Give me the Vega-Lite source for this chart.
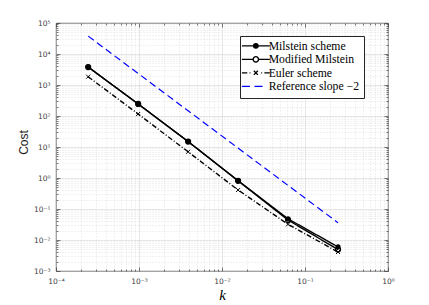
{
  "$schema": "https://vega.github.io/schema/vega-lite/v6.json",
  "width": 332,
  "height": 248,
  "autosize": {"type": "none"},
  "padding": {"left": 56, "top": 23, "right": 41, "bottom": 34},
  "background": "white",
  "datasets": {
    "pts": [
      {"series": "Milstein scheme", "k": 0.000244140625, "cost": 3800},
      {"series": "Milstein scheme", "k": 0.0009765625, "cost": 245},
      {"series": "Milstein scheme", "k": 0.00390625, "cost": 15},
      {"series": "Milstein scheme", "k": 0.015625, "cost": 0.82},
      {"series": "Milstein scheme", "k": 0.0625, "cost": 0.048},
      {"series": "Milstein scheme", "k": 0.25, "cost": 0.006},
      {"series": "Modified Milstein", "k": 0.000244140625, "cost": 3800},
      {"series": "Modified Milstein", "k": 0.0009765625, "cost": 245},
      {"series": "Modified Milstein", "k": 0.00390625, "cost": 15},
      {"series": "Modified Milstein", "k": 0.015625, "cost": 0.81},
      {"series": "Modified Milstein", "k": 0.0625, "cost": 0.044},
      {"series": "Modified Milstein", "k": 0.25, "cost": 0.0049},
      {"series": "Euler scheme", "k": 0.000244140625, "cost": 1850},
      {"series": "Euler scheme", "k": 0.0009765625, "cost": 116},
      {"series": "Euler scheme", "k": 0.00390625, "cost": 7.0},
      {"series": "Euler scheme", "k": 0.015625, "cost": 0.41},
      {"series": "Euler scheme", "k": 0.0625, "cost": 0.032},
      {"series": "Euler scheme", "k": 0.25, "cost": 0.0041},
      {"series": "Reference slope −2", "k": 0.000244140625, "cost": 37700},
      {"series": "Reference slope −2", "k": 0.25, "cost": 0.036}
    ]
  },
  "data": {"name": "pts"},
  "config": {
    "view": {"stroke": "#262626", "strokeWidth": 0.8},
    "legend": {
      "orient": "none",
      "legendX": 184,
      "legendY": 13,
      "padding": 4,
      "rowPadding": 0.5,
      "strokeColor": "#262626",
      "fillColor": "white",
      "labelFont": "Liberation Serif",
      "labelFontSize": 11.7,
      "labelColor": "#000000",
      "symbolSize": 81,
      "symbolStrokeWidth": 1.4,
      "symbolOffset": 6,
      "labelOffset": 7,
      "labelLimit": 200
    }
  },
  "layer": [
    {
      "transform": [{"filter": "datum.series === 'Reference slope −2'"}],
      "mark": {"type": "line", "color": "#0000ff", "strokeDash": [7, 4], "strokeWidth": 1.2},
      "encoding": {
        "x": {
          "field": "k", "type": "quantitative",
          "scale": {"type": "log", "domain": [0.0001, 1], "nice": false},
          "axis": {
            "orient": "top", "title": null, "labels": false, "grid": false, "domain": false,
            "values": [0.0001,0.0002,0.0003,0.0004,0.0005,0.0006,0.0007,0.0008,0.0009,0.001,0.002,0.003,0.004,0.005,0.006,0.007,0.008,0.009,0.01,0.02,0.03,0.04,0.05,0.06,0.07,0.08,0.09,0.1,0.2,0.3,0.4,0.5,0.6,0.7,0.8,0.9,1],
            "tickColor": "#262626", "tickWidth": 0.6,
            "tickSize": {"condition": {"test": "abs(log(datum.value)/LN10 - round(log(datum.value)/LN10)) < 0.001", "value": -4}, "value": -2}
          }
        },
        "y": {
          "field": "cost", "type": "quantitative",
          "scale": {"type": "log", "domain": [0.001, 100000], "nice": false},
          "axis": {
            "orient": "right", "title": null, "labels": false, "grid": false, "domain": false,
            "values": [0.001,0.002,0.003,0.004,0.005,0.006,0.007,0.008,0.009,0.01,0.02,0.03,0.04,0.05,0.06,0.07,0.08,0.09,0.1,0.2,0.3,0.4,0.5,0.6,0.7,0.8,0.9,1,2,3,4,5,6,7,8,9,10,20,30,40,50,60,70,80,90,100,200,300,400,500,600,700,800,900,1000,2000,3000,4000,5000,6000,7000,8000,9000,10000,20000,30000,40000,50000,60000,70000,80000,90000,100000],
            "tickColor": "#262626", "tickWidth": 0.6,
            "tickSize": {"condition": {"test": "abs(log(datum.value)/LN10 - round(log(datum.value)/LN10)) < 0.001", "value": -4}, "value": -2}
          }
        }
      }
    },
    {
      "transform": [{"filter": "datum.series !== 'Reference slope −2'"}],
      "mark": {"type": "line", "color": "black", "strokeWidth": 1.4},
      "encoding": {
        "x": {
          "field": "k", "type": "quantitative",
          "scale": {"type": "log", "domain": [0.0001, 1], "nice": false},
          "axis": {
            "orient": "bottom",
            "values": [0.0001,0.0002,0.0003,0.0004,0.0005,0.0006,0.0007,0.0008,0.0009,0.001,0.002,0.003,0.004,0.005,0.006,0.007,0.008,0.009,0.01,0.02,0.03,0.04,0.05,0.06,0.07,0.08,0.09,0.1,0.2,0.3,0.4,0.5,0.6,0.7,0.8,0.9,1],
            "domain": false,
            "grid": true,
            "gridColor": "#d0d0d0",
            "gridWidth": 0.6,
            "gridDash": {"condition": {"test": "abs(log(datum.value)/LN10 - round(log(datum.value)/LN10)) < 0.001", "value": [1, 0]}, "value": [1, 2]},
            "tickColor": "#262626", "tickWidth": 0.6,
            "tickSize": {"condition": {"test": "abs(log(datum.value)/LN10 - round(log(datum.value)/LN10)) < 0.001", "value": -4}, "value": -2},
            "labelExpr": "abs(log(datum.value)/LN10 - round(log(datum.value)/LN10)) < 0.001 ? '10' + (round(log(datum.value)/LN10) < 0 ? '⁻' : '') + ['⁰','¹','²','³','⁴','⁵'][abs(round(log(datum.value)/LN10))] : ''",
            "labelOverlap": false,
            "labelFlush": false,
            "labelBound": false,
            "labelFont": "DejaVu Sans",
            "labelFontSize": 7.5,
            "labelColor": "#404040",
            "labelPadding": 10,
            "title": "k",
            "titleFont": "Liberation Serif",
            "titleFontStyle": "italic",
            "titleFontWeight": "normal",
            "titleFontSize": 15,
            "titleColor": "#000000",
            "titleBaseline": "alphabetic",
            "titleY": 28
          }
        },
        "y": {
          "field": "cost", "type": "quantitative",
          "scale": {"type": "log", "domain": [0.001, 100000], "nice": false},
          "axis": {
            "orient": "left",
            "values": [0.001,0.002,0.003,0.004,0.005,0.006,0.007,0.008,0.009,0.01,0.02,0.03,0.04,0.05,0.06,0.07,0.08,0.09,0.1,0.2,0.3,0.4,0.5,0.6,0.7,0.8,0.9,1,2,3,4,5,6,7,8,9,10,20,30,40,50,60,70,80,90,100,200,300,400,500,600,700,800,900,1000,2000,3000,4000,5000,6000,7000,8000,9000,10000,20000,30000,40000,50000,60000,70000,80000,90000,100000],
            "domain": false,
            "grid": true,
            "gridColor": "#d0d0d0",
            "gridWidth": 0.6,
            "gridDash": {"condition": {"test": "abs(log(datum.value)/LN10 - round(log(datum.value)/LN10)) < 0.001", "value": [1, 0]}, "value": [1, 2]},
            "tickColor": "#262626", "tickWidth": 0.6,
            "tickSize": {"condition": {"test": "abs(log(datum.value)/LN10 - round(log(datum.value)/LN10)) < 0.001", "value": -4}, "value": -2},
            "labelExpr": "abs(log(datum.value)/LN10 - round(log(datum.value)/LN10)) < 0.001 ? '10' + (round(log(datum.value)/LN10) < 0 ? '⁻' : '') + ['⁰','¹','²','³','⁴','⁵'][abs(round(log(datum.value)/LN10))] : ''",
            "labelOverlap": false,
            "labelFlush": false,
            "labelBound": false,
            "labelFont": "DejaVu Sans",
            "labelFontSize": 7.5,
            "labelColor": "#404040",
            "labelPadding": 10,
            "title": "Cost",
            "titleFont": "Liberation Sans",
            "titleFontWeight": "normal",
            "titleFontSize": 12,
            "titleColor": "#1a1a1a",
            "titleX": -26,
            "titleY": 119
          }
        },
        "detail": {"field": "series"},
        "strokeDash": {
          "field": "series", "type": "nominal",
          "scale": {"domain": ["Milstein scheme", "Modified Milstein", "Euler scheme"], "range": [[1, 0], [1, 0], [5, 2, 1, 2]]},
          "legend": null
        }
      }
    },
    {
      "transform": [{"filter": "datum.series === 'Milstein scheme'"}],
      "mark": {"type": "point", "shape": "circle", "filled": true, "color": "black", "size": 26, "opacity": 1},
      "encoding": {
        "x": {"field": "k", "type": "quantitative", "axis": null},
        "y": {"field": "cost", "type": "quantitative", "axis": null}
      }
    },
    {
      "transform": [{"filter": "datum.series === 'Modified Milstein'"}],
      "mark": {"type": "point", "shape": "circle", "filled": false, "color": "black", "size": 26, "strokeWidth": 1.1, "opacity": 1},
      "encoding": {
        "x": {"field": "k", "type": "quantitative", "axis": null},
        "y": {"field": "cost", "type": "quantitative", "axis": null}
      }
    },
    {
      "transform": [{"filter": "datum.series === 'Euler scheme'"}],
      "mark": {"type": "point", "shape": "M-1,-1L1,1M-1,1L1,-1", "filled": false, "color": "black", "size": 16, "strokeWidth": 1, "opacity": 1},
      "encoding": {
        "x": {"field": "k", "type": "quantitative", "axis": null},
        "y": {"field": "cost", "type": "quantitative", "axis": null}
      }
    },
    {
      "mark": {"type": "point", "filled": true, "size": 0, "strokeWidth": 1.4, "opacity": 1},
      "encoding": {
        "x": {"field": "k", "type": "quantitative", "axis": null},
        "y": {"field": "cost", "type": "quantitative", "axis": null},
        "shape": {
          "field": "series", "type": "nominal",
          "scale": {
            "domain": ["Milstein scheme", "Modified Milstein", "Euler scheme", "Reference slope −2"],
            "range": [
              "M-3.1,0L3.1,0M0.5,0A0.5,0.5,0,1,1,-0.5,0A0.5,0.5,0,1,1,0.5,0Z",
              "M-3.1,0L-0.6,0M0.6,0L3.1,0M0.6,0A0.6,0.6,0,1,1,-0.6,0A0.6,0.6,0,1,1,0.6,0Z",
              "M-3.1,0L-1.9,0M-1.4,0L-1.2,0M-0.45,-0.45L0.45,0.45M-0.45,0.45L0.45,-0.45M1.2,0L1.4,0M1.9,0L3.1,0",
              "M-3.1,0L-1.3,0M-0.3,0L1.5,0"
            ]
          },
          "legend": {"title": null}
        },
        "stroke": {
          "field": "series", "type": "nominal",
          "scale": {
            "domain": ["Milstein scheme", "Modified Milstein", "Euler scheme", "Reference slope −2"],
            "range": ["#000000", "#000000", "#000000", "#0000ff"]
          },
          "legend": {"title": null}
        },
        "fill": {
          "field": "series", "type": "nominal",
          "scale": {
            "domain": ["Milstein scheme", "Modified Milstein", "Euler scheme", "Reference slope −2"],
            "range": ["#000000", "#ffffff", "#000000", "#0000ff"]
          },
          "legend": {"title": null}
        }
      }
    }
  ],
  "resolve": {"axis": {"x": "independent", "y": "independent"}}
}
